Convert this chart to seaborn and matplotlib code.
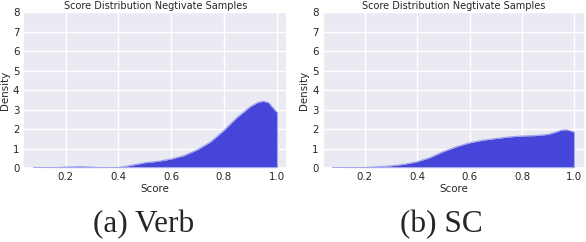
import seaborn as sns
import matplotlib.pyplot as plt
import pandas as pd

# density curves (score, density)
verb_score = [0.08, 0.12, 0.16, 0.2, 0.25, 0.3, 0.35, 0.4, 0.45, 0.5, 0.55, 0.6, 0.65,
              0.7, 0.75, 0.8, 0.85, 0.9, 0.93, 0.95, 0.97, 1.0]
verb_density = [0.01, 0.01, 0.02, 0.05, 0.08, 0.05, 0.02, 0.03, 0.15, 0.28, 0.35, 0.47, 0.65,
                0.95, 1.35, 1.93, 2.6, 3.15, 3.38, 3.43, 3.35, 2.88]

sc_score = [0.08, 0.12, 0.16, 0.2, 0.25, 0.3, 0.35, 0.4, 0.45, 0.5, 0.55, 0.6, 0.65,
            0.7, 0.75, 0.8, 0.85, 0.9, 0.93, 0.95, 0.97, 1.0]
sc_density = [0.0, 0.01, 0.02, 0.03, 0.07, 0.12, 0.2, 0.33, 0.55, 0.85, 1.1, 1.3, 1.43,
              1.52, 1.6, 1.65, 1.67, 1.73, 1.85, 1.95, 1.97, 1.85]

captions = ["(a) Verb", "(b) SC"]
title = "Score Distribution Negtivate Samples"

sns.set_theme(style="darkgrid")
fig = plt.figure(figsize=(5.86, 2.42), dpi=100)
positions = [[0.04, 0.305, 0.45, 0.645], [0.551, 0.305, 0.447, 0.645]]
caption_x = [0.245, 0.753]

for pos, cx, xs, ys, cap in zip(positions, caption_x, [verb_score, sc_score],
                                [verb_density, sc_density], captions):
    ax = fig.add_axes(pos)
    df = pd.DataFrame({"Score": xs, "Density": ys})
    ax.fill_between(df.Score, 0, df.Density, color="#4545d9", linewidth=0, zorder=2)
    sns.lineplot(data=df, x="Score", y="Density", ax=ax, color="#9d9dec", linewidth=0.8, zorder=3)
    ax.plot([xs[0], xs[-1]], [0, 0], color="#a8a8ee", linewidth=1.5, zorder=3)
    ax.plot([xs[-1], xs[-1]], [0, ys[-1]], color="#a8a8ee", linewidth=0.8, zorder=3)
    ax.set_ylim(0, 8)
    ax.set_xlim(0.04, 1.04)
    ax.set_xticks([0.2, 0.4, 0.6, 0.8, 1.0])
    ax.set_yticks(range(0, 9))
    ax.tick_params(labelsize=7.4, length=0, pad=3)
    ax.set_title(title, fontsize=7, pad=2)
    ax.set_xlabel("Score", fontsize=7.4, labelpad=1)
    ax.set_ylabel("Density", fontsize=7.4, labelpad=2)
    fig.text(cx, 0.072, cap, ha="center", va="center",
             fontsize=22.5, family="Liberation Serif")

fig.savefig("out.png", dpi=100)
